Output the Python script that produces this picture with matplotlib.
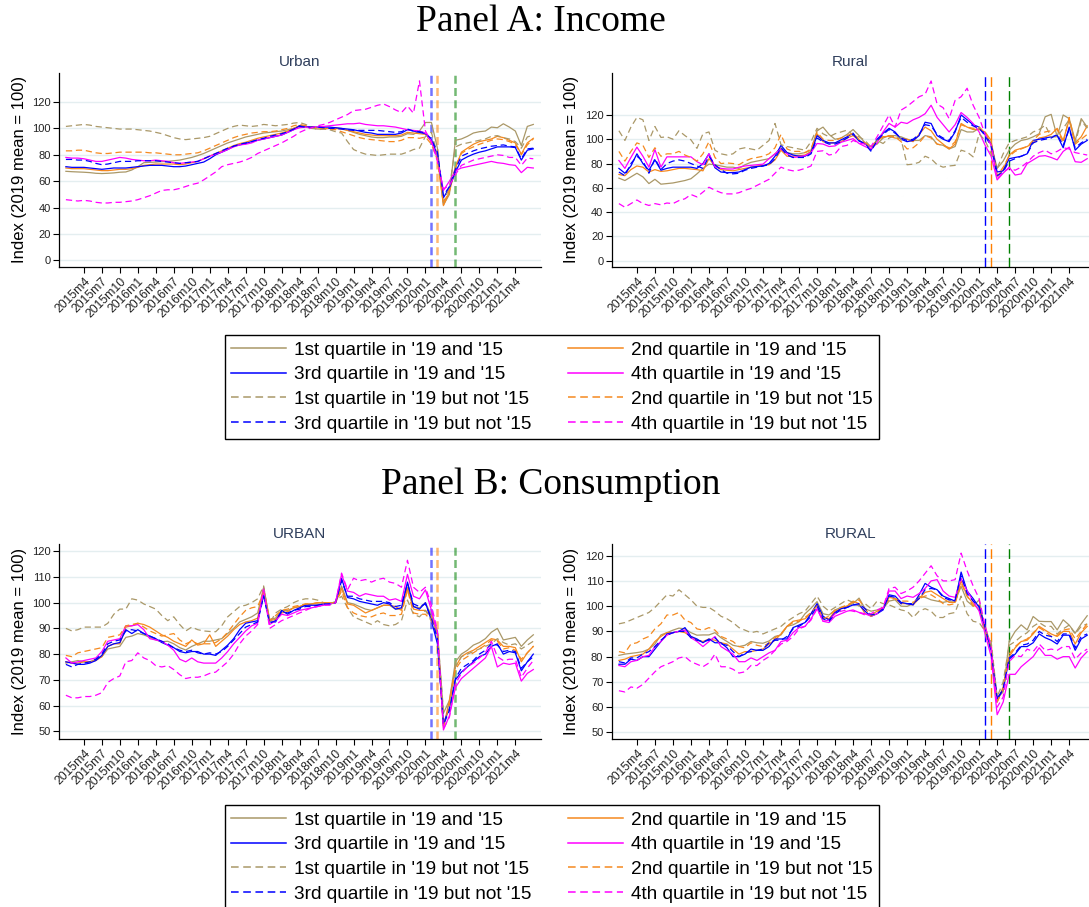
import matplotlib
matplotlib.use("Agg")
import matplotlib.pyplot as plt
from matplotlib.lines import Line2D

plt.rcParams['font.family'] = ['Liberation Sans', 'DejaVu Sans']

# ---------------- x axis: months since 2015m1 (0 = 2015m1 ... 78 = 2021m7)
MONTHS = list(range(79))
TICK_POS = list(range(3, 76, 3))
TICK_LABELS = ['2015m4', '2015m7', '2015m10', '2016m1', '2016m4', '2016m7', '2016m10',
               '2017m1', '2017m4', '2017m7', '2017m10', '2018m1', '2018m4', '2018m7',
               '2018m10', '2019m1', '2019m4', '2019m7', '2019m10', '2020m1', '2020m4',
               '2020m7', '2020m10', '2021m1', '2021m4']
VLINE_MONTHS = [61, 62, 65]          # 2020m2, 2020m3, 2020m6

LABELS_BOTH = ["1st quartile in '19 and '15", "2nd quartile in '19 and '15",
               "3rd quartile in '19 and '15", "4th quartile in '19 and '15"]
LABELS_NEW = ["1st quartile in '19 but not '15", "2nd quartile in '19 but not '15",
              "3rd quartile in '19 but not '15", "4th quartile in '19 but not '15"]

# ---------------- Panel A: Income, Urban
UI_Q1S = [67.5, 67.2, 67, 66.8, 66.5, 66, 65.8, 66, 66.3, 66.8, 67, 68.5,
          71, 74, 74.3, 74.5, 74.8, 75, 75.5, 76, 77, 78, 79.4, 81,
          83, 85, 87, 89, 90.5, 92, 93.5, 94.5, 95.5, 96.5, 97, 97.5,
          98, 99, 100, 102, 101, 100, 99.5, 99.5, 100, 100.5, 100, 98.5,
          97, 95.5, 94.5, 93.5, 93, 93, 93.5, 93.5, 94, 96, 95.5, 98,
          104.5, 104.5, 85, 42, 50, 91, 92, 94, 96.5, 97.5, 98, 101,
          100.5, 103.5, 101, 98, 87, 101.5, 103]
UI_Q1D = [101.5, 102, 102.5, 103, 102.5, 101.5, 101, 100.5, 100, 99.5, 99.5, 99.5,
          99, 98.5, 98, 97, 96, 94.5, 93, 92, 91.5, 92, 92.5, 93,
          94, 96, 98, 100, 101.5, 102.5, 102, 101.5, 102, 103, 102.5, 102,
          102.5, 103, 104, 104.5, 103, 101, 99, 99.5, 99, 97.5, 96.5, 90,
          84, 82, 80.5, 80, 79.5, 80, 80.5, 80.5, 80.5, 82, 84, 85,
          94, 97, 80, 44, 55, 86, 88, 89, 90, 91, 92, 94,
          94.5, 93, 92, 90, 85, 93.5, 95]
UI_Q2S = [70, 69.5, 69.5, 69.5, 69, 68.5, 68, 68, 68.5, 69, 69, 69.5,
          70.5, 72, 72.5, 73, 73, 73, 73, 72.5, 73, 74, 75, 77,
          79, 81, 83, 85, 87, 88.5, 89.5, 91, 92.5, 93.5, 94.5, 95.5,
          96.5, 98, 100, 102, 101.5, 101, 100.5, 100, 100, 100, 99.5, 98.5,
          97.5, 96.5, 95.5, 95, 94.5, 94.5, 94.5, 94.5, 95, 97, 96.5, 96,
          95.5, 90, 78, 41.5, 52, 70, 82, 85, 88, 90, 91, 92,
          94, 93, 91, 89, 80.5, 89, 92.5]
UI_Q2D = [83, 83, 83.5, 83.5, 82.5, 81.5, 81, 81, 81.5, 82, 82, 82,
          82, 82, 81.5, 81.5, 81, 80.5, 80, 80, 80.5, 81, 81.5, 83,
          85, 87, 89, 91, 93, 94.5, 95.5, 96.5, 97, 97.5, 97.5, 98,
          99, 100, 102, 103, 102, 101, 100.5, 100, 99.5, 99, 97.5, 96,
          94.5, 93, 92, 91.5, 91, 90.5, 90, 90, 91, 93, 93, 92.5,
          93.5, 88, 76, 43, 53, 71, 81, 84, 86, 88, 89.5, 91,
          92, 91.5, 90, 88, 80, 87.5, 92]
UI_Q3S = [71, 70.5, 70.5, 70.5, 70, 69.5, 69, 69.5, 70, 70, 70, 70.5,
          71, 71.5, 72, 72, 72, 71.5, 71, 71, 71.5, 72.5, 73.5, 74.5,
          77, 80, 82, 84, 86.5, 87.5, 88.5, 90, 91, 92, 93, 94,
          95, 97, 99, 102, 101.5, 101, 101, 101, 101, 100.5, 100, 99.5,
          99, 98, 97, 96.5, 95.5, 95.5, 95.5, 95.5, 96.5, 99, 98, 97,
          96, 91, 80, 47.5, 55, 67, 76, 78.5, 80.5, 82, 83, 84.5,
          86, 86, 86, 85.5, 76, 83.5, 84.5]
UI_Q3D = [76.5, 76.5, 76, 76, 75, 73.5, 72.5, 73, 74, 75, 75, 75,
          75.5, 75.5, 75.5, 75.5, 75, 74.5, 74, 73.5, 74, 74.5, 75, 77,
          79, 81, 83, 85, 86.5, 88, 89, 90, 91.5, 92.5, 94, 95,
          96, 97.5, 99.5, 101.5, 101, 101, 101, 100.5, 100, 100, 99.5, 99,
          98.5, 98.5, 98.5, 98.5, 98.5, 98, 97.5, 97, 97.5, 99.5, 98, 97.5,
          96.5, 92, 82, 49, 56, 69, 79, 81, 83, 84.5, 85.5, 86.5,
          87, 87.5, 86.5, 86, 77, 84.5, 85]
UI_Q4S = [78, 77.5, 77.5, 77, 76, 75, 75, 76, 77, 78, 77.5, 76.5,
          76, 75.5, 75.5, 76, 75.5, 75, 74, 73.5, 74, 74.5, 75, 77,
          79, 80.5, 82, 84, 86, 87.5, 88, 89, 91, 92, 93, 94,
          95, 97, 99, 100.5, 101, 101, 101, 101.5, 102, 102.5, 103, 103.5,
          103.5, 104, 103, 102.5, 102, 102, 101.5, 101, 100, 99, 98.5, 98,
          96.5, 90, 77, 53, 60, 68, 70, 71, 72, 73, 74, 75,
          74, 73.5, 72.5, 72, 66.5, 70.5, 70]
UI_Q4D = [46, 45.5, 45, 45.5, 45, 44, 43.5, 43.5, 44, 44, 44.5, 45,
          46, 47.5, 49, 51, 53, 53.5, 53.5, 54.5, 56, 57.5, 58.5, 61,
          64, 67, 71, 72.5, 73.5, 74.5, 76, 78, 81, 83, 85, 87,
          89, 91.5, 94, 97, 99, 100.5, 102, 103, 104.5, 106.5, 108.5, 110.5,
          113.5, 114, 114.5, 116, 117.5, 118.5, 116.5, 114, 112, 117, 111.5, 136,
          98, 90, 75, 54, 57, 65, 72, 74, 76, 77, 78, 79,
          80, 79.5, 78, 78, 72, 77.5, 77]

# ---------------- Panel A: Income, Rural
RI_Q1S = [68, 66, 69, 72, 69, 63.5, 67, 63, 63.5, 64, 65, 66,
          67.5, 71.5, 76, 79.5, 79, 78, 77, 77, 76, 79, 81, 82,
          83, 84, 88, 93, 89, 88, 88, 89, 91, 107, 110, 104,
          100, 101, 104, 108, 103, 97, 94, 96, 101, 103, 103, 102,
          100, 99, 99, 103, 102, 96, 95, 92, 94, 108, 106, 106,
          109, 104, 96, 76, 82, 91, 96, 99, 100, 102, 104.5, 118.5,
          120.5, 102, 120, 117, 99, 117, 110]
RI_Q1D = [107, 99, 110, 118, 116, 99, 110.5, 101.5, 102, 100, 107, 103,
          99.5, 92.5, 104.5, 106, 91, 88, 87, 88, 92, 93, 92, 91,
          95, 99, 113, 95.5, 94, 93, 92, 91, 98, 109, 104.5, 102,
          104.5, 106, 107.5, 103.5, 102, 99, 93.5, 99, 96.5, 101, 103, 100,
          79, 79.5, 81, 86, 84, 79, 77, 78, 78.5, 91, 89.5, 85.5,
          104.5, 99, 88, 76, 88, 97, 99, 100.5, 102, 106, 108, 111.5,
          102, 102, 109, 116, 96.5, 115.5, 109]
RI_Q2S = [71, 70, 75, 78, 77, 73, 75, 73.5, 74, 75, 76, 76,
          75.5, 75, 74, 84, 78, 75, 74.5, 74, 75, 76, 77, 78,
          78.5, 79, 83, 91, 86, 86, 86.5, 87, 90, 104.5, 98, 97,
          97, 98, 101, 103, 99, 96, 93.5, 99, 102, 102.5, 101, 100.5,
          100, 98, 104, 110, 107, 100, 96, 92, 96, 113, 110, 108,
          108, 106, 99, 69.5, 75, 87, 91, 92.5, 94, 97, 101, 102,
          104, 109, 99, 116, 97, 102, 111]
RI_Q2D = [90, 82, 90, 97, 95, 85, 93, 86, 88, 88, 90, 87,
          85, 82, 88, 98, 85, 80, 80.5, 80, 79, 82, 84, 85,
          86, 88, 93, 104, 92, 90, 90, 89, 92, 106, 100, 99,
          99, 101, 103, 105, 100, 97, 94, 99, 102, 103, 102, 98,
          92, 93, 97, 103, 101, 96, 95, 93, 98, 112, 110, 109,
          110, 105, 96, 70, 77, 86, 90, 92, 94, 99, 104, 106,
          107, 108, 97, 118, 96, 100, 104]
RI_Q3S = [76, 72, 78, 88, 80, 74.5, 83, 74.5, 76, 77, 77, 77,
          77, 76, 80, 88, 76.5, 73, 72.5, 72.5, 73, 75, 77, 77.5,
          78, 80, 86, 95, 89, 87, 86, 86, 89, 103, 99, 97,
          97, 99.5, 102, 105, 98.5, 96.5, 91, 100, 105, 109, 106, 100,
          98, 99, 103, 114, 113, 103, 100, 98, 106, 120, 116, 112,
          110, 104, 96, 73, 74, 84, 85, 86, 88, 99, 100, 101,
          102, 103, 93, 110, 91, 96, 99]
RI_Q3D = [73, 70, 80, 86, 82, 72, 84, 75, 80, 82, 83, 82,
          80, 78, 76, 86, 79, 75, 72, 71.5, 72, 74.5, 76, 77,
          78, 79, 84, 93, 87, 85, 85, 85, 88, 101, 98, 96,
          96, 98, 101, 104, 99, 96, 90, 99, 104, 108, 105, 101,
          99, 100, 104, 112, 111, 104, 101, 99, 107, 118, 114, 111,
          109, 103, 94, 70, 73, 82, 84, 86, 88, 97, 99, 100,
          101, 104, 95, 108, 93, 97, 100]
RI_Q4S = [82.5, 76, 85, 93.5, 86, 77, 91.5, 77, 85.5, 85.5, 85.5, 85.5,
          85.5, 81.5, 79, 88, 77.5, 76, 75.5, 75.5, 77, 78, 78.5, 79,
          79.5, 84, 88, 92, 88, 85, 85.5, 86.5, 89, 96.5, 96, 94,
          94.5, 97.5, 99, 100.5, 96.5, 94, 92, 97, 106, 113, 110, 114,
          113, 116, 118, 121, 128, 118, 112, 106, 112, 122, 118, 113,
          106, 95, 86, 66.5, 72, 77, 70.5, 71.5, 80, 83, 86, 86.5,
          85, 83, 90, 93.5, 81.5, 81, 84]
RI_Q4D = [47, 44, 47, 50, 47, 45.5, 47, 46, 47.5, 47, 49.5, 51,
          54.5, 52.5, 56.5, 60.5, 58, 56, 55, 55, 56, 58, 59.5, 62,
          64.5, 67, 72, 77, 75, 74, 74.5, 76, 78, 90, 90.5, 87,
          88, 94, 95, 99, 97, 96, 94, 102, 111, 120, 110, 124,
          127, 131, 135, 137, 148, 129, 126, 117, 132, 135, 142, 128,
          118, 104, 95, 67.5, 73, 76, 74.5, 77, 81, 86, 89, 91,
          88, 90, 93, 92, 89, 88, 87]

# ---------------- Panel B: Consumption, Urban
UC_Q1S = [76.5, 77, 77.5, 77, 77, 78, 79, 82, 82.5, 83, 86.5, 87,
          88, 87.5, 86.5, 85.5, 84.8, 85, 84, 82.5, 81.6, 83, 84, 85,
          85, 85.5, 86, 88, 90, 92.5, 93.5, 94.5, 96, 106, 93.5, 94,
          97, 97, 98, 98.5, 99, 99.5, 99.5, 99.5, 99.5, 100, 106.5, 100,
          99.5, 98.5, 97.5, 97, 98, 99, 99, 97.5, 97.5, 106, 98.5, 98,
          100, 95, 89, 57, 62, 77, 80, 81.5, 83.5, 84.5, 86, 88.5,
          90, 85.5, 86, 86.5, 83, 85.5, 87.5]
UC_Q1D = [90, 89, 89.5, 90.5, 90.5, 90.5, 90.5, 92, 95.5, 97.5, 97.5, 101.5,
          101, 99.5, 98.5, 97.5, 95, 93, 94.5, 91.5, 89, 90.5, 89.5, 89,
          88.8, 88.7, 91, 94.5, 96.5, 98.5, 99, 100, 101.5, 106.5, 92, 96,
          97.5, 98.5, 100, 101, 101.5, 101.5, 101, 100, 99.5, 100.5, 102.5, 98,
          94.5, 93.5, 92.5, 91.5, 93, 91.5, 91, 91.5, 93, 101, 95.5, 94.5,
          97, 93, 88, 58, 60, 75, 79, 80, 81, 82, 83, 84,
          86, 84.5, 83.5, 84, 82, 83.5, 85]
UC_Q2S = [77, 76.5, 76.5, 77, 77, 77.5, 79, 83, 84, 84, 90.5, 91,
          92, 91.5, 90.5, 89, 87.5, 86.5, 85, 84, 83, 85.5, 83.5, 84,
          87.5, 83, 85, 87, 89.5, 91.5, 92.5, 93, 94, 105.5, 93, 93.5,
          96, 96.5, 98, 98.5, 99.5, 99.5, 100, 100, 100, 100, 105.5, 99.5,
          99, 97.5, 96, 97, 98, 99, 99, 98.5, 97, 105.5, 97.5, 97,
          97, 94.5, 88, 51.5, 62, 75, 79, 80.5, 81.5, 83, 84.5, 86,
          85.5, 83, 83, 82.5, 77, 80.5, 83]
UC_Q2D = [79.5, 79, 80.5, 81, 81.5, 82, 82.5, 86.5, 87, 87.5, 91, 91.5,
          92, 90.5, 89, 88, 87, 87.5, 88, 85.5, 84, 85, 84, 84,
          84, 84.5, 86, 88.5, 91.5, 94.5, 97, 98, 98.5, 104, 93, 95,
          97, 97.5, 98.5, 99, 99.5, 99.5, 100, 100, 100, 100, 104.5, 98,
          96, 95, 94.5, 94.5, 95.5, 96, 95, 95, 95.5, 105, 96, 95.5,
          95.5, 93, 88, 52, 60, 74, 77.5, 79, 80.5, 82, 83.5, 85.5,
          85, 82, 82.5, 81.5, 78, 80.5, 83]
UC_Q3S = [77, 76.5, 76, 76, 76.5, 77.5, 79.5, 83, 84, 84.5, 89.5, 88,
          89.5, 88, 87, 86, 84.5, 83.5, 82.5, 81, 80.5, 81, 81, 80,
          80, 79.5, 81.5, 83.5, 86, 89.5, 92, 92.5, 93, 103, 92.5, 92.5,
          97, 95.5, 97, 98, 99, 99, 99, 99.5, 99.5, 100, 109.5, 102,
          101.5, 100.5, 100, 99.5, 99, 100, 99.5, 97.5, 98, 108, 98.5, 97.5,
          100, 93, 84, 53, 59, 70, 73, 75, 77, 79, 80, 83,
          84, 80, 81, 80.5, 73.5, 77, 80]
UC_Q3D = [76, 75, 76, 76.5, 77, 78, 80, 84, 85, 85.5, 89, 89.5,
          89, 88, 87, 86, 85, 84, 82.5, 81.5, 81, 81.5, 80.5, 80,
          80.5, 80, 81, 83, 85.5, 88, 90.5, 91.5, 92.5, 102.5, 92, 93,
          96.5, 96, 97, 97.5, 98.5, 98.5, 99, 99.5, 99.5, 100, 108.5, 102.5,
          102.5, 101.5, 101, 100.5, 100.5, 100.5, 100, 98.5, 99, 107.5, 99.5, 98.5,
          99.5, 94, 86, 52.5, 58, 70.5, 74.5, 76, 77.5, 80, 81.5, 84,
          83.5, 81, 81.5, 81, 74.5, 77, 79]
UC_Q4S = [78.5, 76.5, 77, 77.5, 78, 78.5, 81, 85, 85.5, 86, 91, 91,
          91.5, 89.5, 86, 85.5, 85, 83.5, 81.5, 78, 77, 78.5, 77, 76.5,
          76.5, 76.5, 78.5, 81, 84, 86.5, 89, 91, 92, 105.5, 91.5, 93,
          95.5, 95, 96, 97, 97.5, 98, 98.5, 99, 99.5, 100, 111, 104.5,
          104, 102.5, 103.5, 103, 102.5, 102.5, 101, 101.5, 100.5, 111, 102.5, 101.5,
          105, 97, 88, 50.5, 56, 67, 70.5, 72.5, 74.5, 76.5, 78.5, 83,
          75, 76.5, 76, 76.5, 69.5, 72.5, 74]
UC_Q4D = [64, 63, 63, 63.5, 63.5, 64, 65, 69, 70.5, 71.5, 77, 77.5,
          80.5, 78.5, 77.5, 75.5, 75, 75.5, 74, 72, 70.5, 71, 71, 71.5,
          72.5, 73, 75, 77, 80, 84, 87, 89, 91.5, 105, 90, 91.5,
          93, 94, 95, 96, 97, 98, 98.5, 99, 99, 100, 111.5, 105,
          109.5, 108.5, 109, 108, 109, 109.5, 108, 107.5, 106, 116.5, 106, 104,
          106, 99, 89, 51, 55.5, 68.5, 72.5, 75, 76.5, 78.5, 80.5, 85,
          79, 77.5, 78, 78, 71, 74.5, 77.5]

# ---------------- Panel B: Consumption, Rural
RC_Q1S = [80.5, 81, 81.3, 81.6, 82, 83, 85, 88.6, 89.5, 90.5, 91.3, 91,
          89.5, 88.5, 88.6, 88.6, 89.5, 87.5, 86, 84.5, 84, 84.5, 86, 85.5,
          85.3, 86.2, 88, 88.6, 92, 92.6, 93.8, 97, 99.2, 101.8, 97, 96.5,
          98.5, 99.5, 100, 101, 103.2, 99, 98, 98.5, 99, 102, 102.5, 100,
          99.9, 101, 103.8, 103.5, 102.5, 102, 101.5, 102, 102, 107.8, 102, 100,
          102.5, 90, 83, 63.5, 66, 86, 90, 92.6, 90.6, 95.9, 94, 93.9,
          93.9, 90.6, 94.6, 92.5, 89.3, 93, 96.2]
RC_Q1D = [93, 93.5, 94.5, 95.5, 96.5, 97.5, 99.5, 102, 104.5, 104, 106.5, 104.5,
          102.5, 100, 99.5, 99.5, 98, 96, 95, 93.5, 91.5, 90.5, 89.5, 90,
          89, 90, 91, 92, 94, 95.5, 97, 98, 101, 104, 100, 98,
          99.5, 101, 102.5, 101.5, 100, 101, 99, 102, 101, 100.5, 99.5, 98.5,
          98, 95.5, 98, 99, 98, 95.5, 95.5, 97, 97.5, 104, 97, 94,
          93.5, 90, 86, 64, 70, 84.5, 86, 88, 89.5, 92, 93.5, 92,
          92, 89, 91, 92.5, 89, 92, 93]
RC_Q2S = [78.5, 79, 80, 80.5, 81, 83, 86, 88, 89.5, 89.5, 90, 89.5,
          88, 86.5, 86, 87, 86.5, 85.5, 85, 83, 81, 82, 82, 82.5,
          83, 85, 86.5, 89, 92, 94, 94.5, 95, 97, 100.5, 95.5, 95,
          98, 99, 100, 102, 101, 97, 96.5, 98, 99, 103.5, 103, 101,
          101, 100.5, 103, 105.5, 106, 104.5, 103, 101.5, 101.5, 110, 104, 101,
          98.5, 92, 84, 62, 68, 80, 83.5, 86, 86.5, 89, 92, 90.5,
          89, 88, 90, 90, 85, 89.5, 92]
RC_Q2D = [82, 81.5, 85, 85.5, 87, 88, 91, 93, 96.5, 96.5, 97.5, 94.5,
          93.5, 91, 90.5, 91.5, 90.5, 88, 87, 86, 84, 83.5, 85.5, 84.5,
          84, 85.5, 87.5, 89, 92, 93.5, 94, 95.5, 97.5, 100, 95, 96,
          98.5, 99.5, 100.5, 101.5, 102.5, 99, 96, 97.5, 100, 102.5, 103, 102,
          102, 101.5, 103, 104, 104.5, 103, 101, 100.5, 101, 109, 104, 100,
          100.5, 90, 83, 62, 67, 81, 84, 86, 87, 89.5, 91.5, 90,
          88, 88.5, 90.5, 91, 87, 90, 93]
RC_Q3S = [77, 77, 79, 78.5, 80, 80, 83, 86, 89, 89.5, 90, 91.5,
          88, 87, 85.5, 87, 85.5, 85.5, 83.5, 80, 80, 81, 83, 82.5,
          82.5, 84, 87, 87, 87, 91.5, 92.5, 93.5, 97, 101, 96, 94.5,
          97.5, 99, 99.5, 100.5, 100.5, 98, 96, 97, 98.5, 104.5, 104, 101.5,
          101, 100.5, 104.5, 109, 107.5, 106.5, 104, 103, 102, 113.5, 106, 103,
          99.5, 91, 83, 63.5, 67, 79, 81, 84, 84, 85.5, 89, 87.5,
          86.5, 85, 88.5, 88.5, 82.5, 87, 88.5]
RC_Q3D = [78, 77.5, 79.5, 79.5, 81, 82, 84, 86.5, 88.5, 89.5, 90, 90,
          87.5, 86.5, 86, 86.5, 87.5, 85, 84.5, 82, 80, 81.5, 82, 82.5,
          83, 85.5, 86.5, 86.5, 88, 91, 92, 93.5, 96, 100, 95, 94,
          97, 98.5, 99.5, 100.5, 101, 99, 96.5, 97, 99, 104, 103.5, 101,
          101, 101, 103, 106.5, 107, 106.5, 103.5, 102.5, 102.5, 112, 105, 102,
          100, 91.5, 82, 63, 67, 79.5, 81.5, 84.5, 85, 86.5, 90, 88.5,
          88, 86, 89, 89, 83.5, 88, 89]
RC_Q4S = [76.5, 76, 78, 78.5, 80, 80.5, 84, 86, 88.5, 89.5, 90, 90.5,
          87.5, 86, 84, 86, 88, 84, 82.5, 81, 78, 78, 79.5, 78.5,
          80, 81.5, 82.5, 86, 86.5, 89.5, 91.5, 92, 95, 99, 94, 93.5,
          96, 97, 98, 98.5, 97.5, 97, 96, 97, 99, 106, 106, 103,
          104, 103.5, 105, 107, 110, 110.5, 106, 104, 103.5, 111, 106, 102,
          98, 89, 80, 57, 62, 73, 73, 76, 78, 80, 83.5, 80.5,
          80.5, 79, 80, 80, 75.5, 79.5, 82]
RC_Q4D = [66.5, 66, 68, 67.5, 69, 71.5, 74, 76, 77, 78, 79.5, 80,
          78, 77, 76, 77.5, 81, 76, 76, 75, 73.5, 74, 76.5, 76.5,
          78.5, 80, 82.5, 85, 86, 88, 91, 92, 94.5, 99, 94, 94.5,
          97, 98, 98.5, 98, 97.5, 96.5, 97, 98.5, 99.5, 107, 107.5, 105,
          106, 107.5, 110, 113, 116, 112, 110, 110, 110.5, 121, 114, 108,
          103, 92, 84, 60, 64, 78, 80.5, 80, 83, 82, 85, 82.5,
          83, 82.5, 84, 84, 79, 81.5, 83]

# ---------------- styling
Q_COLORS = ['#aa9868', '#f5891f', '#0000ff', '#ff00ff']
VL_COLORS = ['#0000ff', '#ff7f00', '#008000']
GRID_C = '#e4eef0'
TITLE_C = '#2f3e5c'
DASH = (0, (5, 3))

W, H = 1089, 907
fig = plt.figure(figsize=(W / 100, H / 100), dpi=100)


def add_ax(l, t, r, b):
    return fig.add_axes([l / W, 1 - b / H, (r - l) / W, (b - t) / H])


def draw_panel(ax, both, new, title, ylim, yticks, xlim, urban):
    ax.set_axisbelow(True)
    for q in range(4):
        ax.plot(MONTHS, both[q], color=Q_COLORS[q], lw=0.9, ls='-', zorder=3)
    for q in range(4):
        ax.plot(MONTHS, new[q], color=Q_COLORS[q], lw=0.9, ls=DASH, zorder=3)
    for m, c in zip(VLINE_MONTHS, VL_COLORS):
        if urban:
            ax.axvline(m, color=c, lw=1.8, ls=(0, (3.2, 1.7)), alpha=0.55, zorder=2)
        else:
            ax.axvline(m, color=c, lw=1.0, ls=(0, (7, 3)), zorder=2)
    ax.set_xlim(*xlim)
    ax.set_ylim(*ylim)
    ax.set_yticks(yticks)
    ax.set_yticklabels([str(v) for v in yticks])
    ax.set_xticks(TICK_POS)
    ax.set_xticklabels(TICK_LABELS, rotation=45, ha='right', rotation_mode='anchor')
    ax.yaxis.grid(True, color=GRID_C, lw=1.0)
    for s in ('top', 'right'):
        ax.spines[s].set_visible(False)
    for s in ('left', 'bottom'):
        ax.spines[s].set_linewidth(0.9)
    ax.tick_params(axis='both', direction='out', length=4, width=0.8,
                   labelcolor='#222222', pad=2)
    ax.tick_params(axis='x', labelsize=8.8)
    ax.tick_params(axis='y', labelsize=8)
    ax.set_title(title, fontsize=11, color=TITLE_C, pad=4.5)
    ax.set_ylabel('Index (2019 mean = 100)', fontsize=12, labelpad=4)


ax1 = add_ax(59.3, 72.7, 540.5, 267)
ax2 = add_ax(611.7, 72.7, 1089, 267)
ax3 = add_ax(59.3, 544.3, 540.5, 738.7)
ax4 = add_ax(611.7, 544.3, 1089, 738.7)

draw_panel(ax1, [UI_Q1S, UI_Q2S, UI_Q3S, UI_Q4S], [UI_Q1D, UI_Q2D, UI_Q3D, UI_Q4D],
           'Urban', (-5, 142.2), list(range(0, 121, 20)), (-1.1, 79.2), True)
draw_panel(ax2, [RI_Q1S, RI_Q2S, RI_Q3S, RI_Q4S], [RI_Q1D, RI_Q2D, RI_Q3D, RI_Q4D],
           'Rural', (-5.2, 154.8), list(range(0, 121, 20)), (-1.2, 78.3), False)
draw_panel(ax3, [UC_Q1S, UC_Q2S, UC_Q3S, UC_Q4S], [UC_Q1D, UC_Q2D, UC_Q3D, UC_Q4D],
           'URBAN', (47.1, 122.7), list(range(50, 121, 10)), (-1.1, 79.2), True)
draw_panel(ax4, [RC_Q1S, RC_Q2S, RC_Q3S, RC_Q4S], [RC_Q1D, RC_Q2D, RC_Q3D, RC_Q4D],
           'RURAL', (47.5, 124.5), list(range(50, 121, 10)), (-1.2, 78.3), False)

fig.text(0.497, 1 - 22 / H, 'Panel A: Income', ha='center', va='center',
         fontsize=27, family=['Liberation Serif', 'DejaVu Serif'])
fig.text(0.506, 1 - 485 / H, 'Panel B: Consumption', ha='center', va='center',
         fontsize=27, family=['Liberation Serif', 'DejaVu Serif'])


def make_legend(yc):
    order = [0, 2, 4, 6, 1, 3, 5, 7]   # row-major reading of a 2-column legend
    entries = []
    for q in range(4):
        entries.append((Line2D([], [], color=Q_COLORS[q], lw=1.1, ls='-'), LABELS_BOTH[q]))
    for q in range(4):
        entries.append((Line2D([], [], color=Q_COLORS[q], lw=1.1, ls=DASH), LABELS_NEW[q]))
    entries = [entries[i] for i in order]
    leg = fig.legend([e[0] for e in entries], [e[1] for e in entries],
                     loc='center', bbox_to_anchor=(552 / W, 1 - yc / H), ncol=2,
                     fontsize=13.7, frameon=True, fancybox=False, edgecolor='black',
                     framealpha=1, handlelength=2.9, handletextpad=0.42,
                     columnspacing=1.9, labelspacing=0.39, borderpad=0.35,
                     borderaxespad=0)
    leg.get_frame().set_linewidth(1.0)
    return leg


make_legend(387)
make_legend(857)

fig.savefig('out.png', dpi=100)
